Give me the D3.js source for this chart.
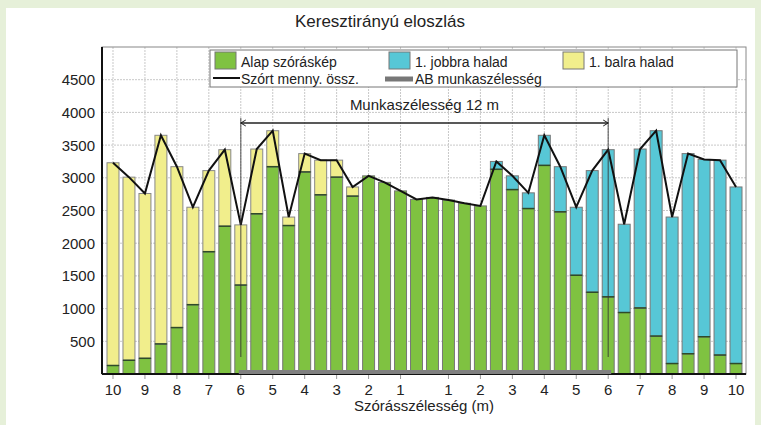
<!DOCTYPE html>
<html><head><meta charset="utf-8">
<script src="https://cdn.jsdelivr.net/npm/d3@7"></script>
<style>
body{margin:0;background:#e6f0d9;}
svg{display:block;font-family:"Liberation Sans",Arial,sans-serif;}
</style></head>
<body><svg id="c" width="761" height="425"></svg>
<script>
// Slot labels (distance from centre, m), one per bar; "" = no label
const slotLabels = ["10","","9","","8","","7","","6","","5","","4","","3","","2","","1","",
                    "","1","","2","","3","","4","","5","","6","","7","","8","","9","","10"];
// Alap szóráskép (green base)
const alap = [130,210,240,460,710,1060,1870,2260,1360,
              2450,3170,2270,3090,2740,3010,2720,
              3030,2930,2800,2670,2700,2660,2610,2570,
              3130,2820,2530,3190,2480,1510,1250,1180,
              940,1010,580,160,310,570,290,160];
// 1. balra halad (yellow, stacked on top)
const balra = [3100,2800,2520,3190,2460,1490,1240,1170,920,
               990,550,130,280,530,260,140,
               0,0,0,0,0,0,0,0,
               0,0,0,0,0,0,0,0,
               0,0,0,0,0,0,0,0];
// 1. jobbra halad (cyan, stacked on top)
const jobbra = [0,0,0,0,0,0,0,0,0,
                0,0,0,0,0,0,0,
                0,0,0,0,0,0,0,0,
                120,210,240,460,690,1040,1860,2250,
                1350,2430,3140,2240,3060,2710,2980,2700];
const yTicks = [500,1000,1500,2000,2500,3000,3500,4000,4500];
const workStart = 8, workEnd = 31; // slot indices of the 12 m working width

const svg = d3.select("#c");
const W = 761, H = 425;
const C = {green:"#7fc241", cyan:"#57c7d6", yellow:"#f1ee8c"};

svg.append("rect").attr("x",6).attr("y",8).attr("width",749).attr("height",417).attr("fill","#fff");

const plot = {l:102, r:746, t:47, b:374};
const x = d3.scaleBand().domain(d3.range(slotLabels.length)).range([107,742]).paddingInner(0.25).paddingOuter(0);
const y = d3.scaleLinear().domain([0,5000]).range([plot.b, plot.t]);
const cx = i => x(i) + x.bandwidth()/2;

// title
svg.append("text").attr("x",380).attr("y",27).attr("text-anchor","middle")
  .attr("font-size",17).attr("fill","#222").text("Keresztirányú eloszlás");

// grid
const g = svg.append("g");
g.selectAll(".hg").data(yTicks).join("line")
  .attr("x1",plot.l).attr("x2",plot.r).attr("y1",d=>y(d)).attr("y2",d=>y(d))
  .attr("stroke","#c8c8c8").attr("stroke-dasharray","2,1");
const labeled = slotLabels.map((l,i)=>l?i:-1).filter(i=>i>=0);
g.selectAll(".vg").data(labeled).join("line")
  .attr("x1",cx).attr("x2",cx).attr("y1",plot.t).attr("y2",plot.b)
  .attr("stroke","#c8c8c8").attr("stroke-dasharray","2,1");
// frame
svg.append("rect").attr("x",plot.l).attr("y",plot.t).attr("width",plot.r-plot.l).attr("height",plot.b-plot.t)
  .attr("fill","none").attr("stroke","#888").attr("stroke-width",1);

// bars
const bars = svg.append("g");
const idx = d3.range(slotLabels.length);
bars.selectAll(".b").data(idx).join("rect")
  .attr("x",i=>x(i)).attr("width",x.bandwidth())
  .attr("y",i=>y(alap[i])).attr("height",i=>y(0)-y(alap[i]))
  .attr("fill",C.green).attr("stroke","#777").attr("stroke-width",1);
bars.selectAll(".yl").data(idx.filter(i=>balra[i]>0)).join("rect")
  .attr("x",i=>x(i)).attr("width",x.bandwidth())
  .attr("y",i=>y(alap[i]+balra[i])).attr("height",i=>y(alap[i])-y(alap[i]+balra[i]))
  .attr("fill",C.yellow).attr("stroke","#888").attr("stroke-width",1);
bars.selectAll(".cy").data(idx.filter(i=>jobbra[i]>0)).join("rect")
  .attr("x",i=>x(i)).attr("width",x.bandwidth())
  .attr("y",i=>y(alap[i]+jobbra[i])).attr("height",i=>y(alap[i])-y(alap[i]+jobbra[i]))
  .attr("fill",C.cyan).attr("stroke","#777").attr("stroke-width",1);
// boundary line between base and top part
bars.selectAll(".sep").data(idx.filter(i=>balra[i]+jobbra[i]>0)).join("line")
  .attr("x1",i=>x(i)).attr("x2",i=>x(i)+x.bandwidth())
  .attr("y1",i=>y(alap[i])).attr("y2",i=>y(alap[i]))
  .attr("stroke","#2f4a2a").attr("stroke-width",1.5);

// y axis
svg.append("line").attr("x1",plot.l).attr("x2",plot.l).attr("y1",plot.t).attr("y2",plot.b)
  .attr("stroke","#111").attr("stroke-width",2);
svg.selectAll(".yt").data(yTicks).join("text")
  .attr("x",95).attr("y",d=>y(d)+5.5).attr("text-anchor","end")
  .attr("font-size",15).attr("fill","#222").text(d=>d);

// x axis: black ends, grey working-width band
svg.append("line").attr("x1",plot.l).attr("x2",plot.r).attr("y1",plot.b).attr("y2",plot.b)
  .attr("stroke","#111").attr("stroke-width",2);
svg.append("line").attr("x1",cx(workStart)-2).attr("x2",cx(workEnd)+3).attr("y1",plot.b-2).attr("y2",plot.b-2)
  .attr("stroke","#808080").attr("stroke-width",4);
svg.selectAll(".xt").data(labeled).join("line")
  .attr("x1",cx).attr("x2",cx).attr("y1",plot.b+1).attr("y2",plot.b+5).attr("stroke","#999");
svg.selectAll(".xl").data(labeled).join("text")
  .attr("x",cx).attr("y",395).attr("text-anchor","middle")
  .attr("font-size",15).attr("fill","#222").text(i=>slotLabels[i]);
svg.append("text").attr("x",424).attr("y",411).attr("text-anchor","middle")
  .attr("font-size",15).attr("fill","#222").text("Szórásszélesség (m)");

// total line
const line = d3.line().x(i=>cx(i)).y(i=>y(alap[i]+balra[i]+jobbra[i]));
svg.append("path").datum(idx).attr("d",line).attr("fill","none")
  .attr("stroke","#111").attr("stroke-width",2).attr("stroke-linejoin","miter");

// working width bracket
const by = 123;
const bx1 = cx(workStart), bx2 = cx(workEnd);
svg.append("line").attr("x1",bx1).attr("x2",bx2).attr("y1",by).attr("y2",by).attr("stroke","#222").attr("stroke-width",1.5);
[bx1,bx2].forEach(xx=>{
  svg.append("line").attr("x1",xx).attr("x2",xx).attr("y1",by-5).attr("y2",357)
    .attr("stroke","#333").attr("stroke-width",1.2).attr("opacity",0.7);
});
svg.append("path").attr("d",`M${bx1+5},${by-3}L${bx1},${by}L${bx1+5},${by+3}`).attr("fill","none").attr("stroke","#222");
svg.append("path").attr("d",`M${bx2-5},${by-3}L${bx2},${by}L${bx2-5},${by+3}`).attr("fill","none").attr("stroke","#222");
svg.append("text").attr("x",(bx1+bx2)/2).attr("y",110).attr("text-anchor","middle")
  .attr("font-size",15).attr("fill","#222").text("Munkaszélesség 12 m");

// legend
const lg = svg.append("g");
lg.append("rect").attr("x",210).attr("y",50).attr("width",527).attr("height",37)
  .attr("fill","#fff").attr("stroke","#777");
const fs = 14;
const sw = [[215,C.green,"Alap szóráskép"],[389,C.cyan,"1. jobbra halad"],[563,C.yellow,"1. balra halad"]];
sw.forEach(([sx,col,t])=>{
  lg.append("rect").attr("x",sx).attr("y",52).attr("width",21).attr("height",17).attr("fill",col).attr("stroke","#777");
  lg.append("text").attr("x",sx+26).attr("y",67).attr("font-size",fs).attr("fill","#222").text(t);
});
lg.append("line").attr("x1",213).attr("x2",240).attr("y1",78).attr("y2",78).attr("stroke","#111").attr("stroke-width",2);
lg.append("text").attr("x",241).attr("y",84).attr("font-size",fs).attr("fill","#222").text("Szórt menny. össz.");
lg.append("line").attr("x1",385).attr("x2",413).attr("y1",79).attr("y2",79).attr("stroke","#777").attr("stroke-width",5);
lg.append("text").attr("x",415).attr("y",84).attr("font-size",fs).attr("fill","#222").text("AB munkaszélesség");
</script></body></html>
